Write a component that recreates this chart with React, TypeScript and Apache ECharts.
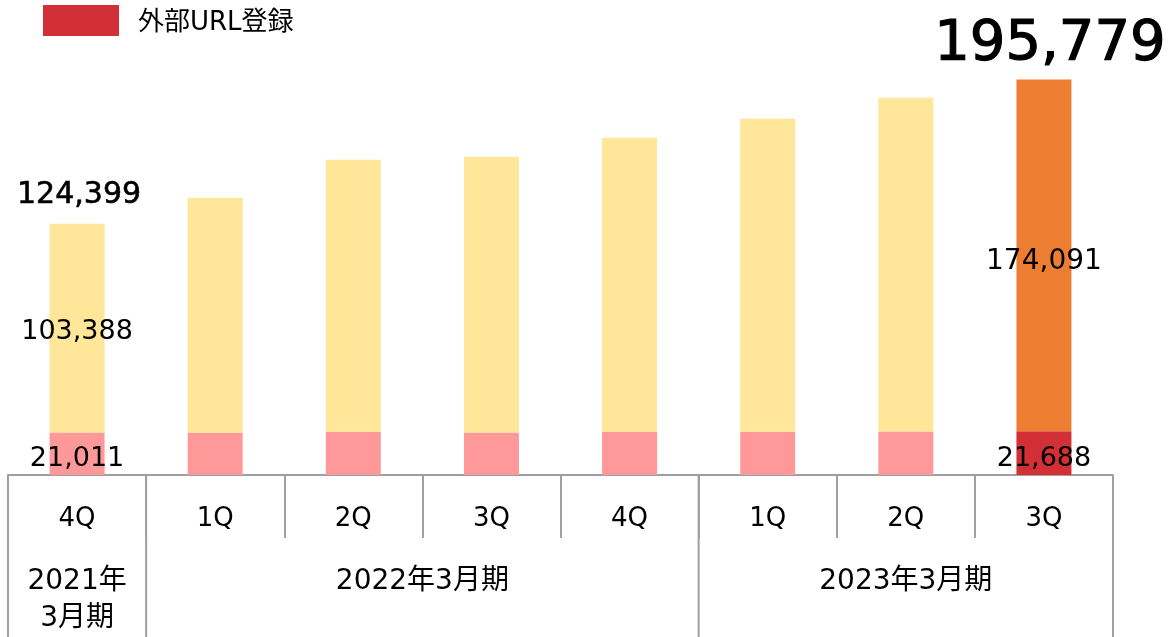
import React, { useEffect, useRef } from "react";
import * as echarts from "echarts";

const quarters = ["4Q", "1Q", "2Q", "3Q", "4Q", "1Q", "2Q", "3Q"];
const urlValues = [21011, 20900, 21450, 21000, 21300, 21450, 21500, 21688];
const otherValues = [103388, 116400, 134650, 136600, 145700, 154950, 165300, 174091];
const fiscalYears = ["2021年\n3月期", "2022年3月期", "2023年3月期"];
const fiscalStarts = [0, 1, 5];
const fiscalEnds = [1, 5, 8];
const labelledBars = [0, 7];
const legendName = "外部URL登録";

const FONT = "'DejaVu Sans', 'Noto Sans CJK JP', sans-serif";
const PINK = "#FF9999";
const DARK_RED = "#D22F37";
const YELLOW = "#FFE699";
const ORANGE = "#ED7D31";
const GRAY = "#9f9f9f";

const fmt = (v: number) => v.toLocaleString("en-US");

export default function App() {
  const ref = useRef<HTMLDivElement>(null);
  useEffect(() => {
    const chart = echarts.init(ref.current!, null, { renderer: "svg" });
    const last = quarters.length - 1;
    const totals = urlValues.map((v, i) => v + otherValues[i]);
    chart.setOption({
      animation: false,
      legend: {
        data: [{ name: legendName, itemStyle: { color: DARK_RED } }],
        left: 43,
        top: 5,
        padding: 0,
        icon: "rect",
        itemWidth: 76,
        itemHeight: 31,
        textStyle: { fontSize: 26, fontFamily: FONT, color: "#000", padding: [0, 0, 0, 14] },
      },
      grid: { left: 8, right: 59, top: 71, bottom: 162 },
      xAxis: {
        type: "category",
        data: quarters,
        axisLine: { lineStyle: { color: GRAY, width: 2 } },
        axisTick: { show: true, length: 63, lineStyle: { color: GRAY, width: 2 } },
        axisLabel: { margin: 29, fontSize: 26, lineHeight: 26, color: "#000", fontFamily: FONT },
      },
      yAxis: { type: "value", min: 0, max: 200000, show: false },
      series: [
        {
          name: legendName,
          type: "bar",
          stack: "q",
          barWidth: 55,
          label: {
            position: "inside",
            fontSize: 27,
            color: "#000",
            fontFamily: FONT,
            offset: [0, 3],
            formatter: (p: any) => fmt(p.value),
          },
          data: urlValues.map((v, i) => ({
            value: v,
            itemStyle: { color: i === last ? DARK_RED : PINK },
            label: { show: labelledBars.includes(i) },
          })),
        },
        {
          name: "other",
          type: "bar",
          stack: "q",
          barWidth: 55,
          label: { position: "inside", fontSize: 27, color: "#000", fontFamily: FONT, formatter: (p: any) => fmt(p.value) },
          data: otherValues.map((v, i) => ({
            value: v,
            itemStyle: { color: i === last ? ORANGE : YELLOW },
            label: {
              show: labelledBars.includes(i),
              fontSize: i === last ? 28 : 27,
              offset: i === last ? [0, 4] : [0, 1],
            },
          })),
        },
        {
          name: "total",
          type: "scatter",
          symbolSize: 1,
          itemStyle: { color: "rgba(0,0,0,0)", opacity: 1 },
          label: { color: "#000", fontFamily: FONT, position: "top" },
          data: totals.map((v, i) => ({
            value: [i, v],
            label: {
              show: labelledBars.includes(i),
              position: "top",
              distance: i === last ? 12 : 16,
              offset: i === last ? [6, 0] : [2, 0],
              fontSize: i === last ? 56 : 30,
              color: "#000",
              textBorderColor: "#000",
              textBorderWidth: i === last ? 1.2 : 0.6,
              fontFamily: FONT,
              formatter: () => fmt(v),
            },
          })),
        },
      ],
    });
    const x0 = chart.convertToPixel({ xAxisIndex: 0 }, 0) as number;
    const x1 = chart.convertToPixel({ xAxisIndex: 0 }, 1) as number;
    const band = x1 - x0;
    const y0 = chart.convertToPixel({ yAxisIndex: 0 }, 0) as number;
    const boundary = (i: number) => x0 - band / 2 + i * band;
    const edges = Array.from(new Set([...fiscalStarts, ...fiscalEnds]));
    const graphics: any[] = [];
    edges.forEach((e) =>
      graphics.push({
        type: "line",
        shape: { x1: boundary(e), y1: y0, x2: boundary(e), y2: 637 },
        style: { stroke: GRAY, lineWidth: 2 },
      })
    );
    fiscalYears.forEach((label, k) =>
      graphics.push({
        type: "text",
        x: (boundary(fiscalStarts[k]) + boundary(fiscalEnds[k])) / 2,
        y: y0 + 86,
        style: {
          text: label,
          fontSize: 28,
          lineHeight: 37,
          fontFamily: FONT,
          fill: "#000",
          align: "center",
          verticalAlign: "top",
        },
      })
    );
    chart.setOption({ graphic: graphics });
    return () => chart.dispose();
  }, []);
  return <div ref={ref} style={{ position: "fixed", left: 0, top: 0, width: 1172, height: 637 }} />;
}
